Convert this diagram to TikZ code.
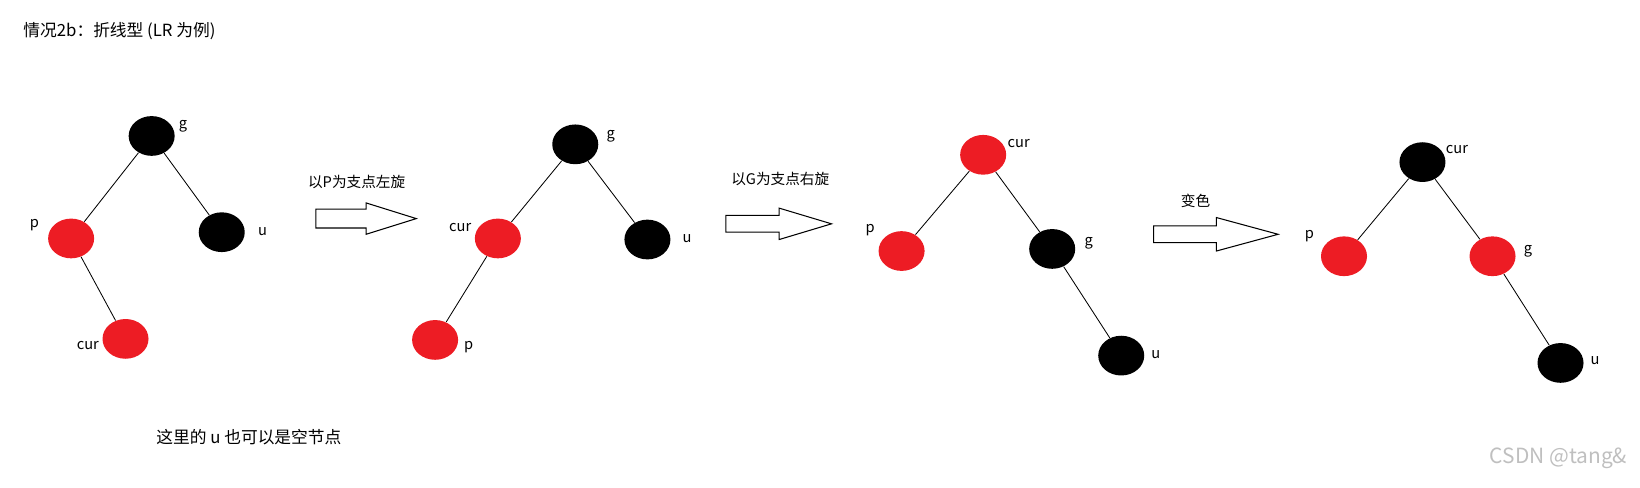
\documentclass[tikz,border=0pt]{standalone}
\usepackage{fontspec}
\setmainfont{Noto Sans CJK SC}
\definecolor{rbred}{HTML}{ED1C24}
\begin{document}
\begin{tikzpicture}[x=0.5pt,y=-0.5pt,
  bn/.style={ellipse,fill=black,minimum width=22pt,minimum height=19pt,inner sep=0pt},
  rn/.style={ellipse,fill=rbred,minimum width=22pt,minimum height=19pt,inner sep=0pt},
  lb/.style={font=\fontsize{7}{8}\selectfont,inner sep=0pt},
  ed/.style={draw=black,line width=0.4pt},
  barrow/.style={draw=black,fill=white,line width=0.5pt}]
\useasboundingbox (0,0) rectangle (1568,466);
\usetikzlibrary{shapes.geometric}
\node[lb,anchor=west,font=\fontsize{8}{9}\selectfont] (title) at (22,30) {情况2b：折线型 (LR 为例)};
% tree 1
\node[bn] (g1) at (145,130) {}; \node[rn] (p1) at (68,228) {};
\node[bn] (u1) at (212,222) {}; \node[rn] (c1) at (120,324) {};
\draw[ed] (g1)--(p1); \draw[ed] (g1)--(u1); \draw[ed] (p1)--(c1);
\node[lb] (lg1) at (175,121) {g}; \node[lb] (lp1) at (33,215) {p};
\node[lb] (lu1) at (251,221) {u}; \node[lb] (lc1) at (84,330) {cur};
% tree 2
\node[bn] (g2) at (550,138) {}; \node[rn] (c2) at (476,228) {};
\node[bn] (u2) at (619,229) {}; \node[rn] (p2) at (416,325) {};
\draw[ed] (g2)--(c2); \draw[ed] (g2)--(u2); \draw[ed] (c2)--(p2);
\node[lb] (lg2) at (584,130) {g}; \node[lb] (lc2) at (440,218) {cur};
\node[lb] (lu2) at (657,228) {u}; \node[lb] (lp2) at (448,332) {p};
% tree 3
\node[rn] (c3) at (940,148) {}; \node[rn] (p3) at (862,240) {};
\node[bn] (g3) at (1006,238) {}; \node[bn] (u3) at (1072,340) {};
\draw[ed] (c3)--(p3); \draw[ed] (c3)--(g3); \draw[ed] (g3)--(u3);
\node[lb] (lc3) at (974,137) {cur}; \node[lb] (lp3) at (832,220) {p};
\node[lb] (lg3) at (1041,233) {g}; \node[lb] (lu3) at (1105,339) {u};
% tree 4
\node[bn] (c4) at (1360,155) {}; \node[rn] (p4) at (1285,245) {};
\node[rn] (g4) at (1427,245) {}; \node[bn] (u4) at (1492,347) {};
\draw[ed] (c4)--(p4); \draw[ed] (c4)--(g4); \draw[ed] (g4)--(u4);
\node[lb] (lc4) at (1393,143) {cur}; \node[lb] (lp4) at (1252,226) {p};
\node[lb] (lg4) at (1461,240) {g}; \node[lb] (lu4) at (1525,345) {u};
% arrows
\draw[barrow] (302,200)--(350,200)--(350,194)--(398,209)--(350,224)--(350,218)--(302,218)--cycle;
\node[lb] (a1) at (341,174) {以P为支点左旋};
\draw[barrow] (694,206)--(745,206)--(745,199)--(795,214)--(745,229)--(745,222)--(694,222)--cycle;
\node[lb] (a2) at (746,171) {以G为支点右旋};
\draw[barrow] (1103,216)--(1163,216)--(1163,208)--(1222,224)--(1163,240)--(1163,232)--(1103,232)--cycle;
\node[lb] (a3) at (1143,192) {变色};
\node[lb,font=\fontsize{8}{9}\selectfont] (note) at (238,418) {这里的 u 也可以是空节点};
\node[lb,font=\fontsize{10}{11}\selectfont,text=black!25,anchor=east] (wm) at (1556,438) {CSDN @tang\&};
\end{tikzpicture}
\end{document}
